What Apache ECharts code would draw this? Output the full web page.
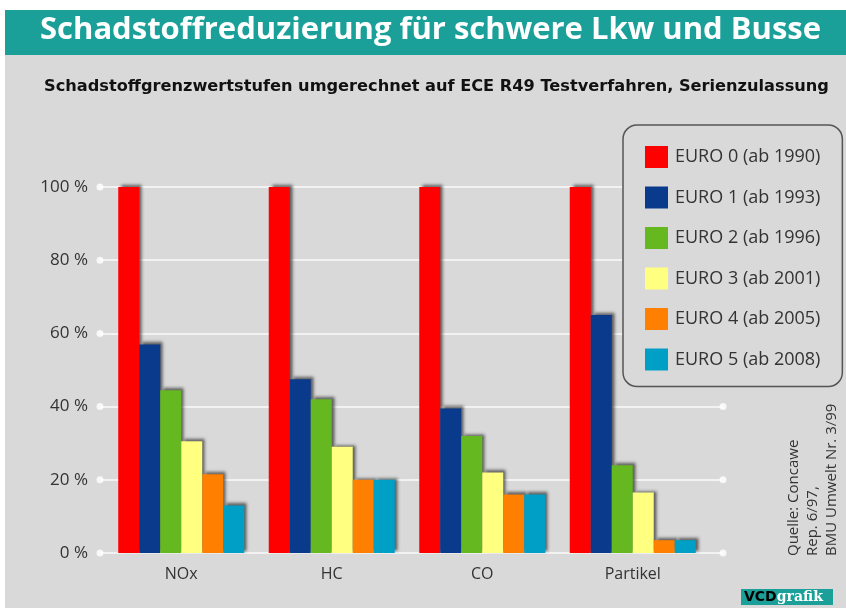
<!DOCTYPE html>
<html>
<head>
<meta charset="utf-8">
<title>Schadstoffreduzierung</title>
<script src="https://cdn.jsdelivr.net/npm/echarts@6/dist/echarts.min.js"></script>
<style>
  html, body { margin: 0; padding: 0; background: #fff; }
  #m1 { width: 846px; height: 613px; }
</style>
</head>
<body>
<div id="m1"></div>
<script>
// Daten
var categories = ['NOx', 'HC', 'CO', 'Partikel'];
var stufen = ['EURO 0 (ab 1990)', 'EURO 1 (ab 1993)', 'EURO 2 (ab 1996)', 'EURO 3 (ab 2001)', 'EURO 4 (ab 2005)', 'EURO 5 (ab 2008)'];
var euro0 = [100, 100, 100, 100];
var euro1 = [57, 47.5, 39.5, 65];
var euro2 = [44.5, 42, 32, 24];
var euro3 = [30.5, 29, 22, 16.5];
var euro4 = [21.5, 20, 16, 3.5];
var euro5 = [13, 20, 16, 3.5];
var yTicks = [0, 20, 40, 60, 80, 100];
var farben = ['#ff0000', '#0a3a8c', '#66b821', '#ffff80', '#ff8000', '#00a0c6'];

$init();

function $init(){
    var myChart = echarts.init(document.getElementById('m1'));
    var werte = [euro0, euro1, euro2, euro3, euro4, euro5];

    var series = werte.map(function(d, i){
        return {
            name: stufen[i],
            type: 'bar',
            xAxisIndex: 1,
            yAxisIndex: 1,
            barWidth: 21,
            barGap: '0%',
            data: d,
            itemStyle: {
                color: farben[i],
                shadowColor: 'rgba(50,50,50,0.75)',
                shadowBlur: 3,
                shadowOffsetX: 3,
                shadowOffsetY: -2
            }
        };
    });

    // weiße Punkte an den Enden der Rasterlinien
    var punkte = [];
    yTicks.forEach(function(t){ punkte.push([0, t]); punkte.push([1, t]); });
    series.push({
        type: 'scatter',
        xAxisIndex: 0,
        yAxisIndex: 0,
        symbolSize: 7,
        silent: true,
        itemStyle: { color: '#ffffff' },
        data: punkte
    });

    var option = {
        animation: false,
        textStyle: { fontFamily: 'Open Sans' },
        title: [
            {
                text: 'Schadstoffreduzierung für schwere Lkw und Busse',
                left: 35, top: 10,
                textStyle: { color: '#fff', fontSize: 31, fontWeight: 'bold', fontFamily: 'Open Sans' }
            },
            {
                text: 'Schadstoffgrenzwertstufen umgerechnet auf ECE R49 Testverfahren, Serienzulassung',
                left: 39, top: 74,
                textStyle: { color: '#111', fontSize: 16.2, fontWeight: 'bold', fontFamily: 'DejaVu Sans' }
            }
        ],
        graphic: [
            { type: 'rect', z: -10, shape: { x: 5, y: 55, width: 841, height: 553 }, style: { fill: '#d9d9d9' } },
            { type: 'rect', z: -10, shape: { x: 5, y: 10, width: 841, height: 45 }, style: { fill: '#1aa098' } },
            {
                type: 'text', x: 784, y: 556, rotation: Math.PI / 2,
                style: { text: 'Quelle: Concawe\nRep. 6/97,\nBMU Umwelt Nr. 3/99', fill: '#333', font: '15px "Open Sans"', lineHeight: 19, textVerticalAlign: 'top' }
            },
            { type: 'rect', shape: { x: 741, y: 589, width: 92, height: 16 }, style: { fill: '#1aa098' } },
            {
                type: 'text', x: 744, y: 597,
                style: { rich: { a: { fill: '#000', font: 'bold 14px "DejaVu Sans"' }, b: { fill: '#fff', font: 'bold 14px "DejaVu Serif"' } }, text: '{a|VCD}{b|grafik}', textVerticalAlign: 'middle' }
            }
        ],
        legend: {
            orient: 'vertical',
            left: 623, top: 125,
            data: stufen,
            itemWidth: 23, itemHeight: 22, itemGap: 18.5,
            backgroundColor: '#d9d9d9',
            borderColor: '#555', borderWidth: 1.5, borderRadius: 14,
            padding: [21, 22, 16, 22],
            icon: 'rect',
            textStyle: { fontSize: 18, color: '#333', padding: [0, 0, 0, 2] }
        },
        grid: [
            { left: 100, right: 123, top: 187, bottom: 60 },
            { left: 106, right: 138, top: 187, bottom: 60 }
        ],
        xAxis: [
            { gridIndex: 0, type: 'value', min: 0, max: 1, show: false },
            {
                gridIndex: 1, type: 'category', data: categories,
                axisLine: { show: false }, axisTick: { show: false },
                axisLabel: { fontSize: 16, color: '#333', margin: 13 }
            }
        ],
        yAxis: [
            {
                gridIndex: 0, type: 'value', min: 0, max: 100, interval: 20,
                axisLine: { show: false }, axisTick: { show: false },
                axisLabel: { formatter: '{value} %', fontSize: 17, color: '#333', margin: 12 },
                splitLine: { lineStyle: { color: '#f2f2f2', width: 2 } }
            },
            { gridIndex: 1, type: 'value', min: 0, max: 100, show: false }
        ],
        series: series
    };

    myChart.setOption(option);
    window.addEventListener('resize', function(){ myChart.resize(); });
}
</script>
</body>
</html>
